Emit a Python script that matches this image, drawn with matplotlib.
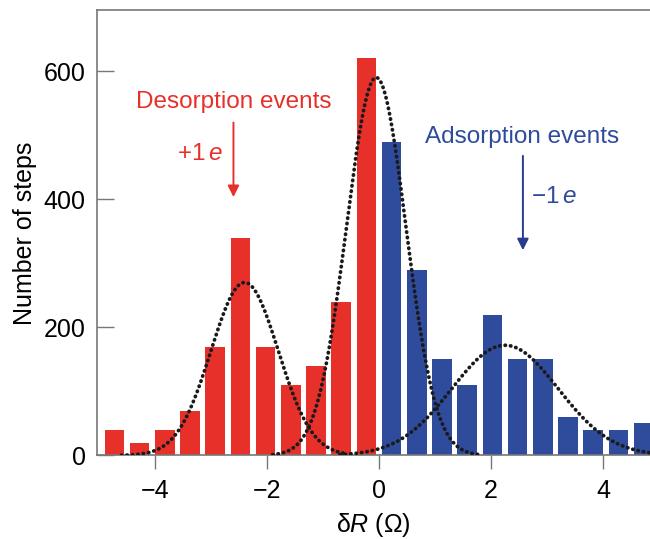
import numpy as np
from matplotlib import pyplot as plt

# histogram of resistance steps, bin width 0.45 ohm
bin_centers = (np.arange(-11, 11) + 0.5) * 0.45
desorption_counts = [40, 20, 40, 70, 170, 340, 170, 110, 140, 240, 620]
adsorption_counts = [490, 290, 150, 110, 220, 150, 150, 60, 40, 40, 50]

# gaussian fits: (amplitude, centre, sigma, x range)
fits = [
    (270, -2.40, 0.60, (-4.6, -0.6)),
    (590, -0.05, 0.53, (-1.9, 1.8)),
    (172, 2.25, 0.95, (-0.7, 5.0)),
]

red = '#e8302a'
blue = '#2f4b9c'
plt.rcParams['font.family'] = ['Liberation Sans', 'DejaVu Sans']
plt.rcParams['mathtext.fontset'] = 'custom'
plt.rcParams['mathtext.rm'] = 'Liberation Sans'
plt.rcParams['mathtext.it'] = 'Liberation Sans:italic'

fig = plt.figure(figsize=(6.5, 5.39), dpi=100)
ax = fig.add_axes([0.149, 0.155, 0.851, 0.826])

ax.bar(bin_centers[:11], desorption_counts, width=0.35, color=red, zorder=2)
ax.bar(bin_centers[11:], adsorption_counts, width=0.35, color=blue, zorder=2)

for amp, mu, sig, (lo, hi) in fits:
    xs = np.linspace(lo, hi, 400)
    ax.plot(xs, amp * np.exp(-(xs - mu) ** 2 / (2 * sig ** 2)),
            color='#1a1a1a', linestyle=(0, (0.1, 1.35)), linewidth=2.7,
            dash_capstyle='round', zorder=3)

ax.text(-2.6, 552, 'Desorption events', color=red, fontsize=17.5,
        ha='center', va='center')
ax.text(-3.2, 470, '+1$\\,\\mathit{e}$', color=red, fontsize=17.5, ha='center', va='center')
ax.annotate('', xy=(-2.6, 399), xytext=(-2.6, 524),
            arrowprops=dict(arrowstyle='-|>', color=red, lw=1.4,
                            mutation_scale=17))

ax.text(2.56, 497, 'Adsorption events', color=blue, fontsize=17.5,
        ha='center', va='center')
ax.text(3.12, 404, '\u22121$\\,\\mathit{e}$', color=blue, fontsize=17.5, ha='center', va='center')
ax.annotate('', xy=(2.57, 316), xytext=(2.57, 472),
            arrowprops=dict(arrowstyle='-|>', color='#2a3a8c', lw=1.4,
                            mutation_scale=17))

ax.set_xlim(-5.04, 4.84)
ax.set_ylim(0, 695)
ax.set_xticks([-4, -2, 0, 2, 4])
ax.set_xticklabels(['\u22124', '\u22122', '0', '2', '4'])
ax.set_yticks([0, 200, 400, 600])
ax.tick_params(axis='y', direction='in', length=12, width=1, color='#777777',
               labelsize=18, pad=8)
ax.tick_params(axis='x', direction='out', length=10, width=1, color='#777777',
               labelsize=18, pad=7)
for side in ['left', 'top', 'bottom']:
    ax.spines[side].set_color('#777777')
    ax.spines[side].set_linewidth(1.2)
ax.spines['right'].set_visible(False)

ax.set_ylabel('Number of steps', fontsize=18, labelpad=5)
ax.set_xlabel('\u03b4$\\mathit{R}$ (\u03a9)', fontsize=18, labelpad=6)

fig.savefig('out.png', dpi=100)
